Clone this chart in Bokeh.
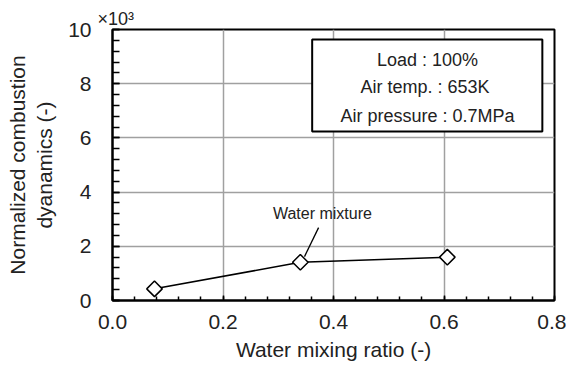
from bokeh.plotting import figure
from bokeh.models import (Range1d, SingleIntervalTicker, NumeralTickFormatter,
                          Label, BoxAnnotation, ColumnDataSource)
from bokeh.embed import file_html
from bokeh.resources import INLINE

# ---- data ----
water_ratio = [0.076, 0.340, 0.606]
dynamics = [0.43, 1.41, 1.60]          # x10^3
callout_x = [0.373, 0.3475]
callout_y = [2.69, 1.62]
legend_lines = ["Load : 100%", "Air temp.  : 653K", "Air pressure : 0.7MPa"]
x_title = "Water mixing ratio (-)"
y_title = "Normalized combustion\ndyanamics (-)"
series_label = "Water mixture"
multiplier = "×10³"

FONT = "Liberation Sans"
W, H = 566, 367
FL, FT, FR, FB = 112, 29, 12, 67
X0, X1, Y0, Y1 = 0.0, 0.8, 0.0, 10.0

p = figure(width=W, height=H, output_backend="svg", toolbar_location=None,
           x_range=Range1d(X0, X1), y_range=Range1d(Y0, Y1),
           min_border_left=FL, min_border_right=FR, min_border_top=FT,
           min_border_bottom=FB)
p.background_fill_color = "white"
p.border_fill_color = "white"
p.outline_line_color = "black"
p.outline_line_width = 2

p.title.text = multiplier
p.title.align = "left"
p.title.offset = -15
p.title.standoff = 2
p.title.text_font = FONT
p.title.text_font_size = "18px"
p.title.text_font_style = "normal"
p.title.text_color = "#222222"

p.xaxis.ticker = SingleIntervalTicker(interval=0.2, num_minor_ticks=5)
p.yaxis.ticker = SingleIntervalTicker(interval=2, num_minor_ticks=5)
p.xaxis.formatter = NumeralTickFormatter(format="0.0")
p.yaxis.formatter = NumeralTickFormatter(format="0")
for ax in (p.xaxis, p.yaxis):
    ax.axis_line_color = "black"
    ax.axis_line_width = 2
    ax.major_tick_line_color = "black"
    ax.minor_tick_line_color = "black"
    ax.major_tick_line_width = 1.5
    ax.minor_tick_line_width = 1.5
    ax.major_tick_out = 0
    ax.minor_tick_out = 0
    ax.major_label_text_font = FONT
    ax.major_label_text_font_size = "21px"
    ax.major_label_text_color = "#222222"
    ax.axis_label_text_font = FONT
    ax.axis_label_text_font_style = "normal"
    ax.axis_label_text_color = "#222222"
p.xaxis.major_tick_in = 5
p.xaxis.minor_tick_in = 4
p.yaxis.major_tick_in = 7
p.yaxis.minor_tick_in = 7
p.xaxis.major_label_standoff = 14
p.yaxis.major_label_standoff = 21

p.xaxis.axis_label = x_title
p.xaxis.axis_label_text_font_size = "21px"
p.xaxis.axis_label_standoff = 6
p.yaxis.axis_label = y_title
p.yaxis.axis_label_text_font_size = "21px"
p.yaxis.axis_label_standoff = 9

p.xgrid.ticker = SingleIntervalTicker(interval=0.2)
p.ygrid.ticker = SingleIntervalTicker(interval=2)
for g in (p.xgrid, p.ygrid):
    g.grid_line_color = "#a0a0a0"
    g.grid_line_width = 1.5

src = ColumnDataSource(dict(x=water_ratio, y=dynamics))
p.line("x", "y", source=src, line_color="black", line_width=1.5)
p.scatter("x", "y", source=src, marker="square", angle=0.785398, size=11,
          fill_color="white", line_color="black", line_width=1.5)

p.line(callout_x, callout_y, line_color="black", line_width=1.3)
p.add_layout(Label(x=0.38, y=3.21, text=series_label, text_font=FONT,
                   text_font_size="16px", text_align="center",
                   text_baseline="middle", text_color="#222222"))

# condition box
box = BoxAnnotation(left=0.3614, right=0.778, bottom=6.24, top=9.63,
                    fill_color="white", fill_alpha=1.0,
                    line_color="black", line_width=2, line_alpha=1.0)
p.add_layout(box)
for txt, yy in zip(legend_lines, [8.86, 7.86, 6.79]):
    p.add_layout(Label(x=0.57, y=yy, text=txt, text_font=FONT,
                       text_font_size="18px", text_align="center",
                       text_baseline="middle", text_color="#222222"))

open("out.html", "w").write(file_html(p, INLINE))
